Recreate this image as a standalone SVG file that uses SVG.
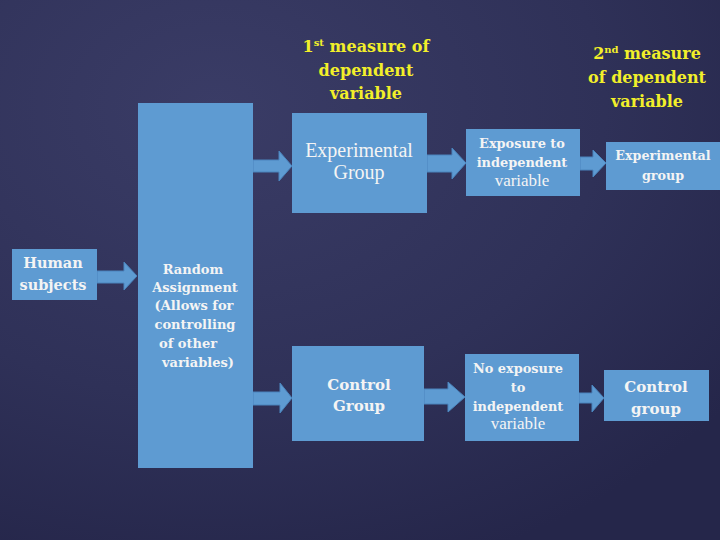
<svg xmlns="http://www.w3.org/2000/svg" width="720" height="540" viewBox="0 0 720 540" font-family="'Liberation Serif', 'DejaVu Serif', serif">
<defs>
<radialGradient id="bg" cx="0.3" cy="0.2" r="0.9">
<stop offset="0" stop-color="#3a3c66"/>
<stop offset="0.6" stop-color="#2f3158"/>
<stop offset="1" stop-color="#25264a"/>
</radialGradient>
<style>
.box{fill:#5e9bd2;}
.arr{fill:#5e9bd2;stroke:#4a84bd;stroke-width:1;}
.t{fill:#f4f4f4;text-anchor:middle;font-family:"Liberation Serif",serif;}
.b{font-family:"DejaVu Serif",serif;font-weight:bold;}
.y{fill:#f2ef2a;font-family:"DejaVu Serif",serif;font-weight:bold;font-size:16px;text-anchor:middle;}
</style>
</defs>
<rect width="720" height="540" fill="url(#bg)"/>

<g id="title1">
<text class="y" x="366" y="52">1<tspan font-size="10" dy="-6">st</tspan><tspan dy="6"> measure of</tspan></text>
<text class="y" x="366" y="76">dependent</text>
<text class="y" x="366" y="99">variable</text>
</g>
<g id="title2">
<text class="y" x="647" y="59">2<tspan font-size="10" dy="-6">nd</tspan><tspan dy="6"> measure</tspan></text>
<text class="y" x="647" y="83">of dependent</text>
<text class="y" x="647" y="107">variable</text>
</g>

<g id="connectors">
<polygon class="arr" points="97,271 124,271 124,262 137,276 124,290 124,283 97,283"/>
<polygon class="arr" points="253,160 279,160 279,151 292,166 279,181 279,172 253,172"/>
<polygon class="arr" points="253,392 280,392 280,383 292,398 280,413 280,405 253,405"/>
<polygon class="arr" points="427,155 452,155 452,148 466,163 452,179 452,172 427,172"/>
<polygon class="arr" points="580,157 593,157 593,150 606,163 593,177 593,170 580,170"/>
<polygon class="arr" points="424,389 448,389 448,382 465,397 448,412 448,404 424,404"/>
<polygon class="arr" points="579,393 592,393 592,385 604,398 592,412 592,403 579,403"/>
</g>

<g id="human">
<rect class="box" x="12" y="249" width="85" height="51"/>
<text class="t b" font-size="14.5" x="53" y="268">Human</text>
<text class="t b" font-size="14.5" x="53" y="290">subjects</text>
</g>

<g id="random">
<rect class="box" x="138" y="103" width="115" height="365"/>
<text class="t b" font-size="13" x="193" y="274">Random</text>
<text class="t b" font-size="13" x="195" y="292">Assignment</text>
<text class="t b" font-size="13" x="194" y="310">(Allows for</text>
<text class="t b" font-size="13" x="195" y="329">controlling</text>
<text class="t b" font-size="13" x="188" y="348">of other</text>
<text class="t b" font-size="13" x="198" y="367">variables)</text>
</g>

<g id="expgroup1">
<rect class="box" x="292" y="113" width="135" height="100"/>
<text class="t" font-size="20" x="359" y="157">Experimental</text>
<text class="t" font-size="20" x="359" y="179">Group</text>
</g>

<g id="ctrlgroup1">
<rect class="box" x="292" y="346" width="132" height="95"/>
<text class="t b" font-size="15" x="359" y="390">Control</text>
<text class="t b" font-size="15" x="359" y="411">Group</text>
</g>

<g id="exposure">
<rect class="box" x="466" y="129" width="114" height="67"/>
<text class="t b" font-size="12.9" x="522" y="148">Exposure to</text>
<text class="t b" font-size="12.9" x="522" y="167">independent</text>
<text class="t" font-size="17" x="522" y="186">variable</text>
</g>

<g id="noexposure">
<rect class="box" x="465" y="354" width="114" height="87"/>
<text class="t b" font-size="12.9" x="518" y="373">No exposure</text>
<text class="t b" font-size="12.9" x="518" y="392">to</text>
<text class="t b" font-size="12.9" x="518" y="411">independent</text>
<text class="t" font-size="17" x="518" y="429">variable</text>
</g>

<g id="expgroup2">
<rect class="box" x="606" y="142" width="114" height="48"/>
<text class="t b" font-size="12.7" x="663" y="160">Experimental</text>
<text class="t b" font-size="12.7" x="663" y="180">group</text>
</g>

<g id="ctrlgroup2">
<rect class="box" x="604" y="370" width="105" height="51"/>
<text class="t b" font-size="15" x="656" y="392">Control</text>
<text class="t b" font-size="15" x="656" y="414">group</text>
</g>
</svg>
